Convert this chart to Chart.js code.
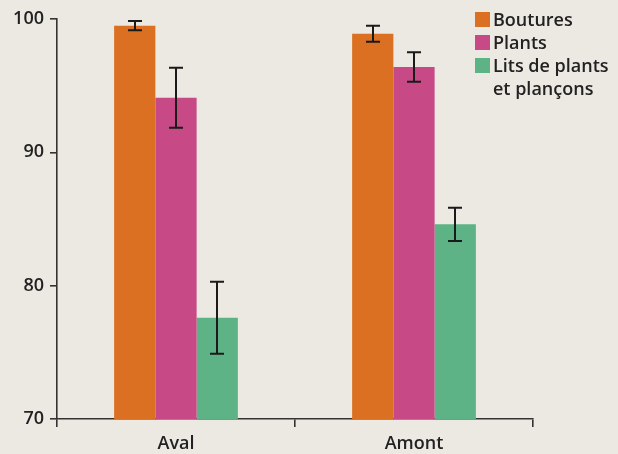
<!DOCTYPE html>
<html>
<head>
<meta charset="utf-8">
<script src="https://cdn.jsdelivr.net/npm/chart.js@4.4.1/dist/chart.umd.min.js"></script>
<style>
  html, body { margin: 0; padding: 0; background: #ece9e3; }
  #wrap { position: relative; width: 618px; height: 454px; }
</style>
</head>
<body>
<div id="wrap"><canvas id="c" width="618" height="454"></canvas></div>
<script>
// Survival rate (%) by technique, downstream (Aval) and upstream (Amont)
const categories = ['Aval', 'Amont'];
const seriesNames = ['Boutures', 'Plants', 'Lits de plants\net plançons'];
const boutures = [99.5, 98.9];
const bouturesErr = [0.35, 0.6];
const plants = [94.1, 96.4];
const plantsErr = [2.25, 1.1];
const lits = [77.6, 84.6];
const litsErr = [2.7, 1.25];
const yTicks = [70, 80, 90, 100];

const colors = ['#db7022', '#c74a87', '#5db386'];
const FONT = '"Open Sans", "DejaVu Sans", sans-serif';
const WEIGHT = '600';
const INK = '#222222';

const errorBars = {
  id: 'errorBars',
  afterDatasetsDraw(chart) {
    const ctx = chart.ctx;
    const y = chart.scales.y;
    ctx.save();
    ctx.strokeStyle = '#1a1a1a';
    ctx.lineWidth = 2;
    chart.data.datasets.forEach((ds, di) => {
      const meta = chart.getDatasetMeta(di);
      meta.data.forEach((bar, i) => {
        const v = ds.data[i], e = ds.err[i];
        const x = Math.round(bar.x);
        const yt = y.getPixelForValue(v + e);
        const yb = y.getPixelForValue(v - e);
        const half = 7;
        ctx.beginPath();
        ctx.moveTo(x, yt); ctx.lineTo(x, yb);
        ctx.moveTo(x - half, yt); ctx.lineTo(x + half, yt);
        ctx.moveTo(x - half, yb); ctx.lineTo(x + half, yb);
        ctx.stroke();
      });
    });
    ctx.restore();
  }
};

const sideLegend = {
  id: 'sideLegend',
  afterDraw(chart) {
    const ctx = chart.ctx;
    ctx.save();
    ctx.font = WEIGHT + ' 18px ' + FONT;
    ctx.textBaseline = 'alphabetic';
    ctx.textAlign = 'left';
    const x0 = 475, sq = 15, lh = 23;
    let base = 26;
    chart.data.datasets.forEach((ds) => {
      const lines = ds.label.split('\n');
      ctx.fillStyle = ds.backgroundColor;
      ctx.fillRect(x0, base - 14, sq, sq);
      ctx.fillStyle = INK;
      lines.forEach((ln, k) => {
        ctx.fillText(ln, x0 + sq + 3, base + k * lh);
      });
      base += lines.length * lh;
    });
    ctx.restore();
  }
};

new Chart(document.getElementById('c'), {
  type: 'bar',
  data: {
    labels: categories,
    datasets: [
      { label: seriesNames[0], data: boutures, err: bouturesErr, backgroundColor: colors[0] },
      { label: seriesNames[1], data: plants, err: plantsErr, backgroundColor: colors[1] },
      { label: seriesNames[2], data: lits, err: litsErr, backgroundColor: colors[2] }
    ]
  },
  options: {
    responsive: false,
    animation: false,
    layout: { padding: { top: 19, right: 85, left: 0, bottom: 0 } },
    datasets: { bar: { categoryPercentage: 0.52, barPercentage: 1.0, borderWidth: 0 } },
    plugins: { legend: { display: false }, tooltip: { enabled: false } },
    scales: {
      x: {
        afterFit(s) { s.height = 35; },
        grid: { offset: true, drawOnChartArea: false, drawTicks: true, tickLength: 8, color: '#333', lineWidth: 1.6 },
        border: { display: true, color: '#333', width: 1.6 },
        ticks: { color: INK, font: { family: FONT, size: 18, weight: WEIGHT }, padding: 6 }
      },
      y: {
        min: 70, max: 100,
        afterFit(s) { s.width = 57; },
        afterBuildTicks(s) { s.ticks = yTicks.map(v => ({ value: v })); },
        grid: { drawOnChartArea: false, drawTicks: true, tickLength: 7, color: '#333', lineWidth: 1.6 },
        border: { display: true, color: '#333', width: 1.6 },
        ticks: { color: INK, font: { family: FONT, size: 18, weight: WEIGHT }, padding: 6 }
      }
    }
  },
  plugins: [errorBars, sideLegend]
});
</script>
</body>
</html>
